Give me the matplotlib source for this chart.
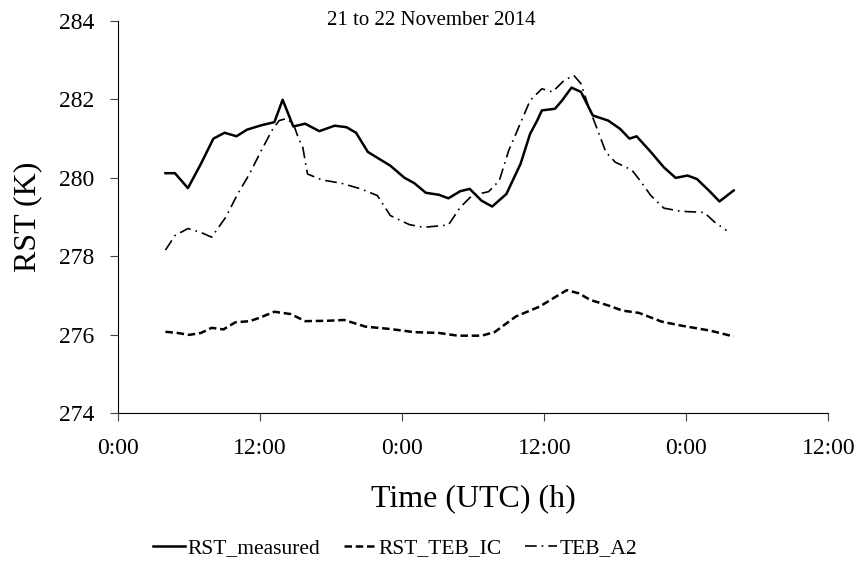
import matplotlib
matplotlib.use('Agg')
import matplotlib.pyplot as plt

plt.rcParams['font.family'] = ['Liberation Serif', 'DejaVu Serif']

# hours since 0:00 on 21 November 2014
hours_meas = [4.0, 4.8, 5.9, 7.0, 8.05, 9.0, 10.0, 10.9, 12.1, 13.2, 13.9, 14.8, 15.8,
              17.0, 18.3, 19.3, 20.1, 21.1, 23.0, 24.2, 25.0, 26.0, 27.1, 27.9, 28.9,
              29.7, 30.7, 31.6, 32.8, 34.0, 34.8, 35.4, 35.8, 36.9, 37.5, 38.3, 39.1,
              40.1, 41.4, 42.4, 43.2, 43.8, 45.0, 46.1, 47.1, 48.1, 48.9, 49.9, 50.8, 52.0]
rst_measured = [280.12, 280.12, 279.74, 280.36, 281.0, 281.15, 281.06, 281.23, 281.34,
                281.42, 281.99, 281.31, 281.38, 281.19, 281.33, 281.29, 281.15, 280.66,
                280.31, 280.0, 279.87, 279.62, 279.57, 279.48, 279.66, 279.72, 279.42,
                279.27, 279.59, 280.36, 281.12, 281.46, 281.72, 281.76, 281.97, 282.30,
                282.19, 281.59, 281.46, 281.25, 281.0, 281.06, 280.66, 280.27, 280.0,
                280.06, 279.97, 279.68, 279.4, 279.68]

hours_ic = [4.0, 5.0, 6.0, 7.0, 7.9, 8.9, 9.9, 11.1, 11.9, 13.2, 14.6, 15.8, 17.7, 19.1,
            20.9, 23.0, 25.0, 27.1, 28.7, 30.7, 31.8, 33.6, 35.6, 36.9, 37.9, 38.9, 39.9,
            41.4, 42.6, 44.0, 45.9, 47.5, 50.0, 52.0]
rst_teb_ic = [276.08, 276.05, 276.0, 276.05, 276.18, 276.14, 276.32, 276.35, 276.43,
              276.59, 276.53, 276.35, 276.36, 276.38, 276.21, 276.15, 276.07, 276.05,
              275.98, 275.98, 276.07, 276.47, 276.72, 276.96, 277.14, 277.06, 276.89,
              276.75, 276.62, 276.56, 276.34, 276.24, 276.11, 275.96]

hours_a2 = [4.0, 4.8, 5.9, 7.0, 7.9, 9.1, 10.1, 11.1, 12.1, 13.0, 13.6, 14.2, 14.8, 15.2,
            15.6, 16.0, 17.2, 18.9, 20.5, 21.9, 23.0, 24.6, 25.8, 27.9, 28.9, 29.9, 31.3,
            32.2, 33.0, 33.6, 34.8, 35.8, 36.7, 37.7, 38.5, 39.1, 39.7, 40.4, 41.2, 42.0,
            43.4, 44.2, 45.0, 46.1, 47.5, 49.5, 50.4, 51.4]
teb_a2 = [278.16, 278.53, 278.71, 278.61, 278.49, 279.0, 279.59, 280.1, 280.7, 281.21,
          281.46, 281.51, 281.38, 281.04, 280.78, 280.1, 279.95, 279.86, 279.72, 279.55,
          279.04, 278.81, 278.74, 278.8, 279.25, 279.55, 279.65, 279.93, 280.7, 281.12,
          281.97, 282.27, 282.19, 282.49, 282.61, 282.4, 281.85, 281.3, 280.66, 280.4,
          280.2, 279.89, 279.55, 279.23, 279.15, 279.12, 278.87, 278.66]

x_ticks = [0, 12, 24, 36, 48, 60]
x_ticklabels = ['0:00', '12:00', '0:00', '12:00', '0:00', '12:00']
y_ticks = [274, 276, 278, 280, 282, 284]

fig = plt.figure(figsize=(8.62, 5.64), dpi=100)
ax = fig.add_axes([0.137, 0.267, 0.824, 0.696])

ax.plot(hours_meas, rst_measured, color='black', lw=1.8, label='RST_measured')
ax.plot(hours_ic, rst_teb_ic, color='black', lw=1.8, dashes=(3, 1.5), label='RST_TEB_IC')
ax.plot(hours_a2, teb_a2, color='black', lw=1.2, dashes=(7, 3, 1, 3), label='TEB_A2')

ax.set_xlim(0, 60)
ax.set_ylim(274, 284)
ax.set_xticks(x_ticks)
ax.set_xticklabels(x_ticklabels)
ax.set_yticks(y_ticks)
ax.tick_params(labelsize=17, direction='out', length=6, width=0.8, color='#444444')
ax.tick_params(axis='x', pad=12)
ax.tick_params(axis='y', pad=11)
ax.spines['top'].set_visible(False)
ax.spines['right'].set_visible(False)

ax.set_ylabel('RST (K)', fontsize=23)
ax.yaxis.set_label_coords(-0.127, 0.5)
ax.yaxis.label.set_va('center')
ax.set_xlabel('Time (UTC) (h)', fontsize=23)
ax.xaxis.set_label_coords(0.5, -0.217)
ax.xaxis.label.set_va('center')
ax.text(26.45, 284, '21 to 22 November 2014', fontsize=15, ha='center', va='center')

fig.legend(loc='center', bbox_to_anchor=(0.458, 0.028), ncol=3, frameon=False,
           fontsize=15.5, handlelength=1.5, handletextpad=0.1, columnspacing=1.1)

fig.savefig('out.png', dpi=100)
